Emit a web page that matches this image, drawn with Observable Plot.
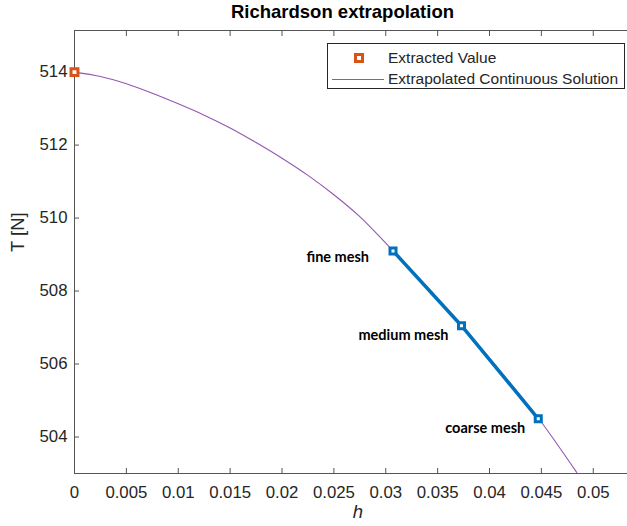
<!DOCTYPE html>
<html>
<head>
<meta charset="utf-8">
<script src="https://cdn.jsdelivr.net/npm/d3@7"></script>
<script src="https://cdn.jsdelivr.net/npm/@observablehq/plot@0.6"></script>
<style>
  html, body { margin: 0; padding: 0; background: #fff; }
  #wrap { position: relative; width: 627px; height: 526px; font-family: "Liberation Sans", Arial, sans-serif; }
  #title { height: 22px; line-height: 24px; box-sizing: border-box; padding-left: 58px; text-align: center; font-weight: bold; font-size: 18.5px; color: #000; white-space: nowrap; }
  #legend { position: absolute; left: 327px; top: 43px; width: 298px; height: 46px; border: 1px solid #262626; background: #fff; box-sizing: border-box; font-size: 15.5px; color: #262626; }
  .row { position: absolute; left: 0; height: 20px; width: 100%; }
  .row span.t { position: absolute; left: 60px; top: 1px; white-space: nowrap; }
  .row svg { position: absolute; left: 0; top: 0; }
</style>
</head>
<body>
<div id="wrap">
  <div id="title">Richardson extrapolation</div>
  <div id="chart"></div>
  <div id="legend">
    <div class="row" style="top:4px"><svg width="60" height="20"><rect x="27.5" y="6.5" width="7" height="7" fill="#fff" stroke="#D95319" stroke-width="3"/></svg><span class="t">Extracted Value</span></div>
    <div class="row" style="top:25px"><svg width="60" height="20"><line x1="4" x2="56" y1="10.5" y2="10.5" stroke="#9556b0" stroke-width="1.1"/></svg><span class="t">Extrapolated Continuous Solution</span></div>
  </div>
</div>
<script>
// Extrapolated continuous solution
const curveH = [0, 0.0025, 0.005, 0.0075, 0.01, 0.0125, 0.015, 0.0175, 0.02, 0.0225, 0.025, 0.0275, 0.0307, 0.034, 0.0373, 0.041, 0.0447, 0.0484];
const curveT = [514.0, 513.88, 513.68, 513.42, 513.13, 512.82, 512.47, 512.07, 511.64, 511.17, 510.64, 510.04, 509.1, 508.11, 507.05, 505.82, 504.52, 503.03];
// Mesh results
const meshLabels = ["fine mesh", "medium mesh", "coarse mesh"];
const meshH = [0.0307, 0.0373, 0.0447];
const meshT = [509.1, 507.05, 504.5];
// Extracted (extrapolated) value
const extractedH = [0];
const extractedT = [514.0];
// Axes
const xTicks = [0, 0.005, 0.01, 0.015, 0.02, 0.025, 0.03, 0.035, 0.04, 0.045, 0.05];
const yTicks = [504, 506, 508, 510, 512, 514];
const xDomain = [0, 0.0533];
const yDomain = [503, 515.14];

const curve = curveH.map((h, i) => ({h, T: curveT[i]}));
const mesh = meshH.map((h, i) => ({h, T: meshT[i], label: meshLabels[i]}));
const extracted = extractedH.map((h, i) => ({h, T: extractedT[i]}));

const axisColor = "#555";
const textColor = "#262626";
const fmt = d => String(+d.toFixed(3));

const labelFont = {fontFamily: "Lato, 'Noto Sans', sans-serif", fontWeight: "bold", fontSize: 14.5, fill: "#000", textAnchor: "end"};

const chart = Plot.plot({
  width: 627,
  height: 504,
  marginLeft: 74,
  marginRight: 0,
  marginTop: 8,
  marginBottom: 53,
  style: {fontFamily: "'Liberation Sans', Arial, sans-serif", fontSize: "16.8px", color: textColor, background: "#fff", overflow: "visible"},
  x: {domain: xDomain},
  y: {domain: yDomain},
  marks: [
    Plot.ruleY([yDomain[1]], {stroke: axisColor}),
    Plot.ruleY([yDomain[0]], {stroke: axisColor}),
    Plot.ruleX([xDomain[0]], {stroke: axisColor}),
    Plot.axisX({anchor: "bottom", ticks: xTicks, tickFormat: fmt, tickSize: -5, tickPadding: 18, stroke: axisColor, fill: textColor, label: null}),
    Plot.axisX({anchor: "top", ticks: xTicks, tickFormat: () => "", tickSize: -5, stroke: axisColor, label: null}),
    Plot.axisY({anchor: "left", ticks: yTicks, tickFormat: d => String(d), tickSize: -5, tickPadding: 12, stroke: axisColor, fill: textColor, label: null}),
    Plot.line(curve, {x: "h", y: "T", stroke: "#9556b0", strokeWidth: 1.1, curve: "monotone-x"}),
    Plot.line(mesh, {x: "h", y: "T", stroke: "#0072BD", strokeWidth: 3.5}),
    Plot.dot(mesh, {x: "h", y: "T", symbol: "square", r: 3.4, fill: "#fff", stroke: "#0072BD", strokeWidth: 3}),
    Plot.dot(extracted, {x: "h", y: "T", symbol: "square", r: 3.9, fill: "#fff", stroke: "#D95319", strokeWidth: 3}),
    Plot.text(mesh, {filter: d => d.label === meshLabels[0], x: "h", y: "T", text: "label", dx: -24, dy: 6, ...labelFont}),
    Plot.text(mesh, {filter: d => d.label === meshLabels[1], x: "h", y: "T", text: "label", dx: -13, dy: 10, ...labelFont}),
    Plot.text(mesh, {filter: d => d.label === meshLabels[2], x: "h", y: "T", text: "label", dx: -13, dy: 10, ...labelFont}),
    Plot.text(["h"], {frameAnchor: "bottom", dx: 7, dy: 44, text: d => d, fontStyle: "italic", fontSize: 18.5, fill: textColor}),
    Plot.text(["T [N]"], {frameAnchor: "left", dx: -56, rotate: -90, text: d => d, fontSize: 18.5, fill: textColor})
  ]
});
document.getElementById("chart").appendChild(chart);
</script>
</body>
</html>
